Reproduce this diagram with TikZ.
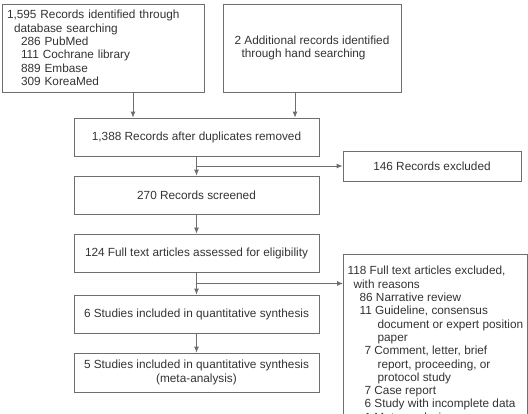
\documentclass[tikz,border=0pt]{standalone}
\usepackage{fontspec}
\setmainfont{Liberation Sans}
\usetikzlibrary{arrows.meta,calc}
\definecolor{linec}{HTML}{6E6E6E}
\definecolor{txtc}{HTML}{333333}
\begin{document}
\begin{tikzpicture}[x=1pt,y=-1pt,
  box/.style={draw=linec, line width=0.8pt, text=txtc, font=\fontsize{11.8}{13.3}\selectfont, inner sep=0pt},
  arr/.style={draw=linec, line width=0.8pt, -{Latex[length=6pt,width=5pt]}}
]
\useasboundingbox (0,0) rectangle (528,413);
\clip (0,0) rectangle (528,413);

\node[box, minimum width=202pt, minimum height=88pt, text width=192pt, align=left] (b1) at (103,48)
 {1,595 Records identified through\\\hspace*{7pt}database searching\\\hspace*{14pt}286 PubMed\\\hspace*{14pt}111 Cochrane library\\\hspace*{14pt}889 Embase\\\hspace*{14pt}309 KoreaMed};
\node[box, minimum width=178pt, minimum height=88pt, align=left] (b2) at (312,48)
 {2 Additional records identified\\\hspace*{7pt}through hand searching};
\node[box, minimum width=245pt, minimum height=38pt] (b3) at (196.5,137) {1,388 Records after duplicates removed};
\node[box, minimum width=178pt, minimum height=30pt] (b146) at (432,166) {146 Records excluded};
\node[box, minimum width=245pt, minimum height=38pt] (b4) at (196.5,195) {270 Records screened};
\node[box, minimum width=245pt, minimum height=38pt] (b5) at (196.5,253) {124 Full text articles assessed for eligibility};
\node[box, minimum width=245pt, minimum height=38pt] (b6) at (196.5,314) {6 Studies included in quantitative synthesis};
\node[box, minimum width=245pt, minimum height=39pt, align=center] (b7) at (196.5,372.5) {5 Studies included in quantitative synthesis\\(meta-analysis)};
\node[box, anchor=north west, minimum width=184pt, inner xsep=4pt, inner ysep=12pt, align=left] (b118) at (343,254)
 {118 Full text articles excluded,\\\hspace*{6pt}with reasons\\\hspace*{12pt}86 Narrative review\\\hspace*{12pt}11 Guideline, consensus\\\hspace*{30pt}document or expert position\\\hspace*{30pt}paper\\\hspace*{17pt}7 Comment, letter, brief\\\hspace*{30pt}report, proceeding, or\\\hspace*{30pt}protocol study\\\hspace*{17pt}7 Case report\\\hspace*{17pt}6 Study with incomplete data\\\hspace*{17pt}1 Meta-analysis};

\draw[arr] ([xshift=30pt]b1.south) -- ([xshift=30pt]b1.south |- b3.north);
\draw[arr] ([xshift=-17pt]b2.south) -- ([xshift=-17pt]b2.south |- b3.north);
\draw[arr] (b3.south) -- (b4.north);
\coordinate (j1) at ($(b3.south)!0.5!(b4.north)$);
\draw[arr] (j1) -- (b146.west);
\draw[arr] (b4.south) -- (b5.north);
\draw[arr] (b5.south) -- (b6.north);
\coordinate (j2) at ($(b5.south)!0.5!(b6.north)$);
\draw[arr] (j2) -- (j2 -| b118.west);
\draw[arr] (b6.south) -- (b7.north);
\end{tikzpicture}
\end{document}
